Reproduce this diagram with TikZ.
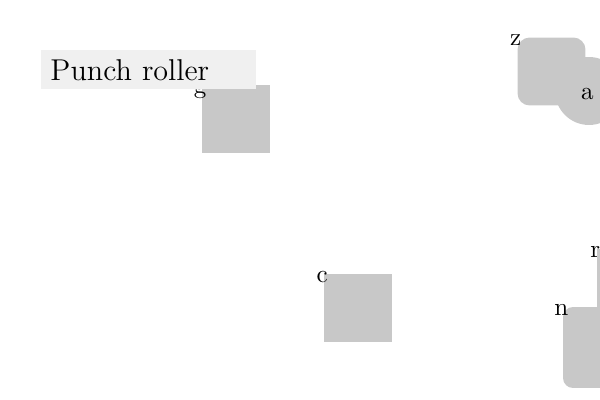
\documentclass[tikz,border=0pt]{standalone}
\usetikzlibrary{shapes.geometric, positioning}
\usepackage{xcolor}
\definecolor{blockGray}{RGB}{200,200,200}
\definecolor{titleGray}{RGB}{240,240,240}

\begin{document}
\begin{tikzpicture}[
    x=0.014cm, y=-0.014cm,
    blk/.style={rectangle, fill=blockGray, minimum size=0.952cm, inner sep=0pt},
    rblk/.style={blk, rounded corners=0.17cm},
    rnd/.style={circle, fill=blockGray, minimum size=0.952cm, inner sep=0pt},
    lbl/.style={anchor=base, inner sep=0pt, xshift=-0.5pt, yshift=-3.4pt},
    lblc/.style={anchor=center, inner sep=0pt, xshift=-0.6pt, yshift=-1.3pt},
    title/.style={rectangle, fill=titleGray, anchor=north west, font=\large, text width=2.744cm, align=left, inner xsep=0.14cm, inner ysep=0pt, minimum height=0.546cm}
]
\useasboundingbox (0,0) rectangle (600,400);
\clip (0,0) rectangle (600,400);

\node[blk, label={[lbl]north west:g}] (g) at (236,119) {};
\node[blk, label={[lbl]north west:c}] (c) at (358,308) {};
\node[rblk, label={[lbl]north west:z}] (z) at (551.5,71.5) {};
\node[rnd, label={[lblc]center:a}] (a) at (589,91) {};
\node[blk, label={[lbl]north west:r}] (r) at (631,283) {};
\node[rblk, minimum size=1.134cm, rounded corners=0.14cm, label={[lbl]north west:n}] (n) at (603.5,347.5) {};

\node[title] (heading) at (40,50) {Punch roller};
\end{tikzpicture}
\end{document}
